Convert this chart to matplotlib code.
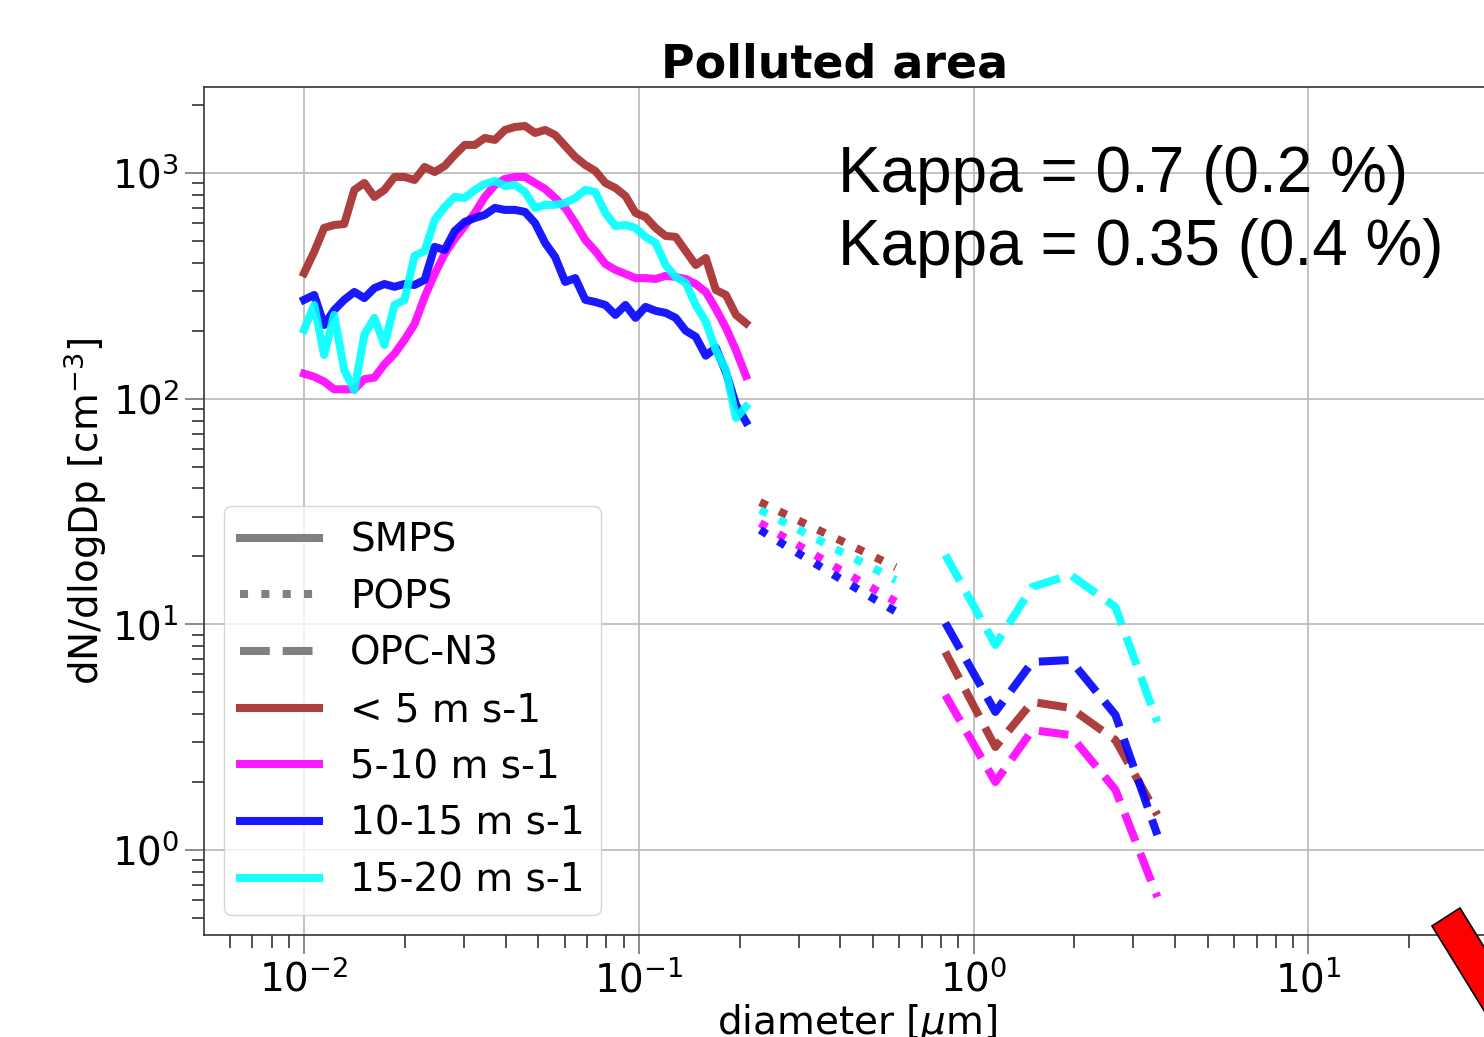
#!/usr/bin/env python3

import matplotlib
matplotlib.use('Agg')
import matplotlib.pyplot as plt
from matplotlib.lines import Line2D
from matplotlib.patches import Polygon

# Number size distributions in the polluted area, split by wind speed class

# Colours of the four wind speed classes
COLORS = ['brown', 'magenta', 'blue', 'cyan']
SPEED_LABELS = ['< 5 m s-1', '5-10 m s-1', '10-15 m s-1', '15-20 m s-1']

# SMPS bin diameters [um]
smps_diam = [0.01000, 0.01072, 0.01148, 0.01230, 0.01318, 0.01413, 0.01514, 0.01622, 0.01738,
             0.01862, 0.01995, 0.02138, 0.02291, 0.02455, 0.02630, 0.02818, 0.03020, 0.03236,
             0.03467, 0.03715, 0.03981, 0.04266, 0.04571, 0.04898, 0.05248, 0.05623, 0.06026,
             0.06457, 0.06918, 0.07413, 0.07943, 0.08511, 0.09120, 0.09772, 0.1047, 0.1122,
             0.1202, 0.1288, 0.1380, 0.1479, 0.1585, 0.1698, 0.1820, 0.1950, 0.2089]
# SMPS dN/dlogDp per wind speed class [cm-3]
smps_lt5 = [360, 447, 571, 588, 594, 841, 903, 783, 841, 960, 960, 931, 1063, 1010, 1074, 1202,
            1331, 1331, 1429, 1401, 1551, 1599, 1615, 1504, 1551, 1474, 1317, 1177, 1085, 1021,
            903, 858, 791, 665, 638, 571, 526, 521, 451, 391, 420, 303, 288, 235, 216]
smps_5_10 = [129, 125, 119, 110, 110, 110, 122, 124, 142, 158, 182, 214, 282, 357, 438, 510,
             582, 665, 783, 885, 941, 960, 960, 903, 849, 775, 700, 600, 505, 451, 395, 372,
             357, 342, 342, 339, 350, 346, 339, 322, 297, 250, 206, 164, 126]
smps_10_15 = [274, 288, 212, 247, 274, 297, 279, 309, 322, 313, 322, 319, 336, 470, 456, 553,
              607, 632, 652, 700, 686, 686, 672, 600, 490, 424, 329, 342, 274, 268, 260, 235,
              260, 228, 255, 245, 240, 228, 200, 188, 155, 168, 131, 94, 79]
smps_15_20 = [202, 260, 156, 235, 134, 109, 192, 228, 173, 260, 274, 429, 451, 619, 707, 783,
              775, 841, 894, 922, 876, 885, 824, 700, 722, 722, 737, 775, 841, 824, 665, 582,
              588, 571, 521, 490, 391, 346, 326, 260, 219, 164, 134, 82, 92]

# POPS bin diameters [um] and dN/dlogDp [cm-3]
pops_diam = [0.230, 0.277, 0.334, 0.403, 0.485, 0.585]
pops_lt5 = [34.8, 30.5, 26.7, 23.4, 20.5, 17.9]
pops_5_10 = [28.1, 23.9, 20.4, 17.3, 14.8, 12.6]
pops_10_15 = [26.2, 22.1, 18.7, 15.8, 13.4, 11.4]
pops_15_20 = [32.1, 27.9, 24.2, 20.9, 18.2, 15.7]

# OPC-N3 bin diameters [um] and dN/dlogDp [cm-3]
opc_diam = [0.823, 1.161, 1.497, 1.945, 2.651, 3.538]
opc_lt5 = [7.54, 2.86, 4.53, 4.26, 3.07, 1.43]
opc_5_10 = [4.86, 2.00, 3.40, 3.23, 1.85, 0.619]
opc_10_15 = [10.14, 4.09, 6.81, 6.95, 3.97, 1.166]
opc_15_20 = [20.3, 8.10, 14.64, 16.55, 11.94, 3.69]

smps_series = [smps_lt5, smps_5_10, smps_10_15, smps_15_20]
pops_series = [pops_lt5, pops_5_10, pops_10_15, pops_15_20]
opc_series = [opc_lt5, opc_5_10, opc_10_15, opc_15_20]

LINE_WIDTH = 5.8
FONT_SIZE = 28

W, H = 1484, 1037
fig = plt.figure(figsize=(W / 100, H / 100), dpi=100)
# The axes runs past the right edge of the picture, as in the original slide
ax = fig.add_axes([204 / W, 1 - 935 / H, 1306 / W, 848 / H])
ax.set_xscale('log')
ax.set_yscale('log')

# Draw every instrument for every wind speed class
for color, smps, pops, opc in zip(COLORS, smps_series, pops_series, opc_series):
    ax.plot(smps_diam, smps, color=color, lw=LINE_WIDTH, alpha=0.9, ls='-')
    ax.plot(pops_diam, pops, color=color, lw=LINE_WIDTH, alpha=0.9, ls=':')
    ax.plot(opc_diam, opc, color=color, lw=LINE_WIDTH, alpha=0.9, ls='--')

ax.set_xlim(0.005025, 40)
ax.set_ylim(0.42, 2404)
ax.grid(True, which='major', color='#b8b8b8', lw=1.2)
ax.set_axisbelow(True)

ax.tick_params(which='major', labelsize=FONT_SIZE, length=14, width=1.2, color='#777777', pad=4)
ax.tick_params(which='minor', length=9, width=1.2, color='#333333')
for side in ['left', 'bottom', 'top']:
    ax.spines[side].set_color('#333333')
    ax.spines[side].set_linewidth(1.2)

ax.set_xlabel(r'diameter [$\mu$m]', fontsize=FONT_SIZE, labelpad=2)
ax.set_ylabel(r'dN/dlogDp [cm$^{-3}$]', fontsize=FONT_SIZE, labelpad=2)
ax.set_title('Polluted area', fontsize=33, fontweight='bold', x=0.483, pad=6)

# Legend: line style per instrument, colour per wind speed class
handles = [Line2D([], [], color='gray', lw=LINE_WIDTH, ls='-', label='SMPS'),
           Line2D([], [], color='gray', lw=LINE_WIDTH, ls=':', label='POPS'),
           Line2D([], [], color='gray', lw=LINE_WIDTH, ls='--', label='OPC-N3')]
for color, label in zip(COLORS, SPEED_LABELS):
    handles.append(Line2D([], [], color=color, lw=LINE_WIDTH, alpha=0.9, label=label))
ax.legend(handles=handles, loc='lower left', bbox_to_anchor=(0.0153, 0.0236), borderaxespad=0,
          fontsize=FONT_SIZE, handlelength=2.05, handletextpad=0.8, labelspacing=0.48,
          framealpha=0.8)

# Kappa values written on the slide
fig.text(838 / W, 1 - 145 / H, 'Kappa = 0.7 (0.2 %)\nKappa = 0.35 (0.4 %)', fontsize=46,
         family='Liberation Sans', va='top', ha='left', linespacing=1.27)

# Red arrow cut by the right edge of the slide
arrow_px = [(1432, 926), (1460, 908), (1540, 1038), (1512, 1056)]
fig.patches.append(Polygon([(x / W, 1 - y / H) for x, y in arrow_px], closed=True,
                           facecolor='red', edgecolor='black', lw=1.2,
                           transform=fig.transFigure, figure=fig))

fig.savefig('out.png', dpi=100)
